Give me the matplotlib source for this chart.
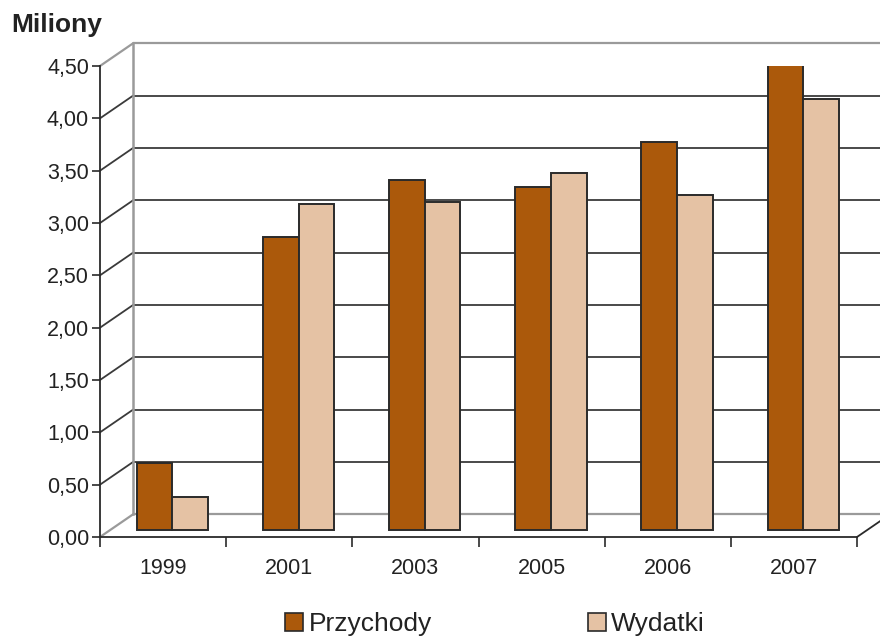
import numpy as np
import matplotlib
matplotlib.use("Agg")
import matplotlib.pyplot as plt
from matplotlib.patches import Patch
from matplotlib.ticker import FuncFormatter, MultipleLocator

plt.rcParams['font.family'] = ['Liberation Sans', 'DejaVu Sans']

# data (millions)
years = ["1999", "2001", "2003", "2005", "2006", "2007"]
przychody = [0.64, 2.80, 3.34, 3.27, 3.70, 4.44]
wydatki = [0.31, 3.11, 3.13, 3.41, 3.20, 4.11]

c_przych = "#ab590b"
c_wyd = "#e5c2a4"
edge = "#2a2a2a"
txt = "#222222"

# pseudo 3d offsets (category units, value units)
back_dx, back_dy = 0.26, 0.215
bar_dx, bar_dy = 0.074, 0.07
bar_w = 0.283

fig = plt.figure(figsize=(8.8, 6.41), dpi=100)
ax = fig.add_axes([100 / 880, 1 - 537 / 641, 757 / 880, 471 / 641])
ax.set_xlim(0, len(years))
ax.set_ylim(0, 4.5)
ax.patch.set_visible(False)

# back wall + side wall lines
levels = np.arange(0, 4.51, 0.5)
right = len(years) + back_dx + 1
for v in levels:
    edge_line = np.isclose(v, 0) or np.isclose(v, 4.5)
    col = "#9a9a9a" if edge_line else "#3a3a3a"
    lw = 1.6 if edge_line else 1.3
    ax.plot([back_dx, right], [v + back_dy, v + back_dy], color=col, lw=lw,
            clip_on=False, zorder=1, solid_capstyle='butt')
    ax.plot([0, back_dx], [v, v + back_dy], color=col, lw=lw,
            clip_on=False, zorder=1)
ax.plot([back_dx, back_dx], [back_dy, 4.5 + back_dy], color="#9a9a9a", lw=1.8,
        clip_on=False, zorder=1)
ax.plot([len(years), len(years) + back_dx], [0, back_dy], color="#2a2a2a", lw=1.3,
        clip_on=False, zorder=1)

# bars
x = np.arange(len(years)) + 0.5 + bar_dx
ax.bar(x - bar_w / 2, przychody, bar_w, bottom=bar_dy, color=c_przych,
       edgecolor=edge, linewidth=1.4, zorder=3)
ax.bar(x + bar_w / 2, wydatki, bar_w, bottom=bar_dy, color=c_wyd,
       edgecolor=edge, linewidth=1.4, zorder=3)

# axes
for s in ["top", "right"]:
    ax.spines[s].set_visible(False)
for s in ["left", "bottom"]:
    ax.spines[s].set_color("#2a2a2a")
    ax.spines[s].set_linewidth(1.3)
    ax.spines[s].set_zorder(4)

ax.yaxis.set_major_locator(MultipleLocator(0.5))
ax.yaxis.set_major_formatter(FuncFormatter(lambda v, p: f"{v:.2f}".replace(".", ",")))
ax.tick_params(axis='y', length=6, width=1.2, color="#2a2a2a", pad=2,
               labelsize=15.5, labelcolor=txt)

ax.set_xticks(np.arange(len(years)) + 0.5)
ax.set_xticklabels(years)
ax.set_xticks(np.arange(len(years) + 1), minor=True)
ax.tick_params(axis='x', which='major', length=0, pad=15, labelsize=15.5, labelcolor=txt)
ax.tick_params(axis='x', which='minor', length=7, width=1.2, color="#2a2a2a")

fig.text(11 / 880, 1 - 32 / 641, "Miliony", fontsize=19, fontweight='bold',
         color=txt, va='baseline', ha='left')

handles = [Patch(facecolor=c_przych, edgecolor=edge, linewidth=1.2, label="Przychody"),
           Patch(facecolor=c_wyd, edgecolor=edge, linewidth=1.2, label="Wydatki")]
leg = fig.legend(handles=handles, loc='center', bbox_to_anchor=(495 / 880, 1 - 624 / 641),
                 ncol=2, frameon=False, fontsize=19, handlelength=0.7,
                 handleheight=0.7, handletextpad=0.2, columnspacing=5.9)
for t in leg.get_texts():
    t.set_color(txt)

fig.savefig("out.png", dpi=100)
